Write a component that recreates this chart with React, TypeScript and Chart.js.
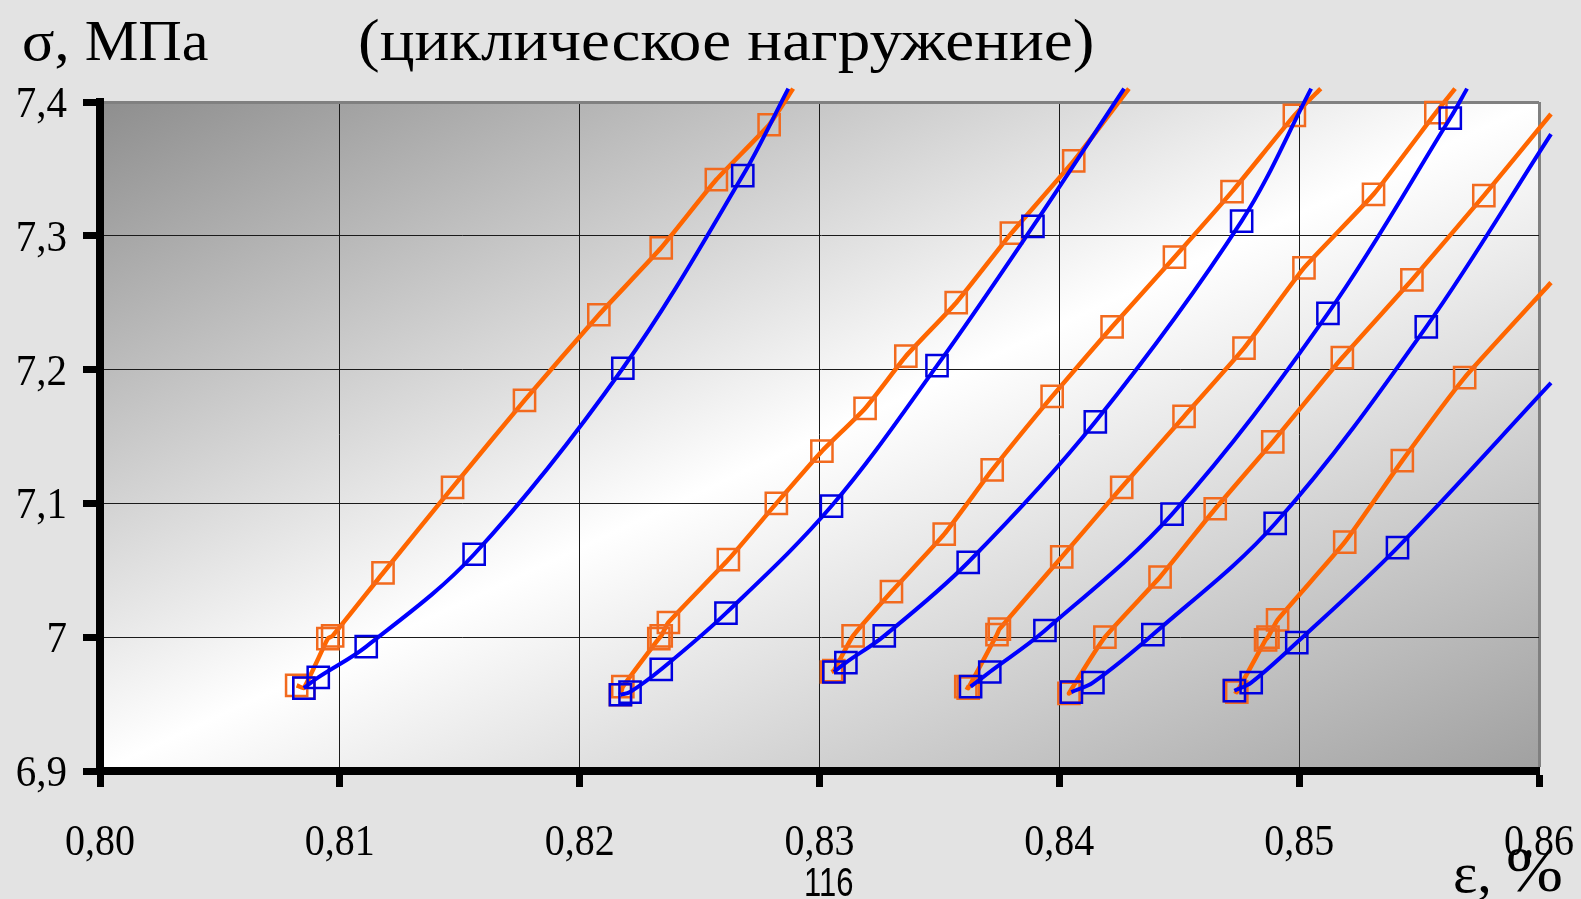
import { useEffect, useRef } from 'react';
import { Chart, registerables } from 'chart.js';
Chart.register(...registerables);

const X_TICKS = [0.8, 0.81, 0.82, 0.83, 0.84, 0.85, 0.86];
const X_TICK_LABELS = ['0,80', '0,81', '0,82', '0,83', '0,84', '0,85', '0,86'];
const Y_TICKS = [6.9, 7.0, 7.1, 7.2, 7.3, 7.4];
const Y_TICK_LABELS = ['6,9', '7', '7,1', '7,2', '7,3', '7,4'];

// [strain %, stress MPa]
const ORANGE_1 = [[0.8082, 6.964], [0.8085, 6.962], [0.8095, 6.999], [0.8097, 7.001], [0.8118, 7.048], [0.8147, 7.112], [0.8177, 7.177], [0.8208, 7.241], [0.8234, 7.291], [0.8257, 7.342], [0.8279, 7.383], [0.8289, 7.41]];
const BLUE_1 = [[0.8085, 6.962], [0.8091, 6.97], [0.8111, 6.993], [0.8156, 7.062], [0.8218, 7.201], [0.8268, 7.345], [0.8287, 7.41]];

const ORANGE_2 = [[0.8217, 6.957], [0.8218, 6.963], [0.8233, 6.999], [0.8234, 7.001], [0.8237, 7.011], [0.8262, 7.058], [0.8282, 7.1], [0.8301, 7.139], [0.8319, 7.171], [0.8336, 7.21], [0.8357, 7.25], [0.838, 7.302], [0.8406, 7.356], [0.8429, 7.41]];
const BLUE_2 = [[0.8217, 6.957], [0.8221, 6.959], [0.8234, 6.976], [0.8261, 7.018], [0.8305, 7.098], [0.8349, 7.203], [0.8389, 7.307], [0.8427, 7.41]];

const ORANGE_3 = [[0.8305, 6.974], [0.8306, 6.975], [0.8314, 7.001], [0.833, 7.034], [0.8352, 7.077], [0.8372, 7.125], [0.8397, 7.18], [0.8422, 7.232], [0.8448, 7.284], [0.8472, 7.333], [0.8498, 7.39], [0.8509, 7.41]];
const BLUE_3 = [[0.8306, 6.974], [0.8311, 6.981], [0.8327, 7.001], [0.8362, 7.056], [0.8415, 7.161], [0.8476, 7.311], [0.8505, 7.41]];

const ORANGE_4 = [[0.8361, 6.963], [0.8362, 6.962], [0.8374, 7.002], [0.8375, 7.006], [0.8401, 7.06], [0.8426, 7.112], [0.8452, 7.165], [0.8477, 7.216], [0.8502, 7.276], [0.8531, 7.331], [0.8557, 7.392], [0.8565, 7.41]];
const BLUE_4 = [[0.8363, 6.963], [0.8371, 6.974], [0.8394, 7.005], [0.8447, 7.092], [0.8512, 7.242], [0.8563, 7.388], [0.857, 7.41]];

const ORANGE_5 = [[0.8405, 6.959], [0.8404, 6.958], [0.8419, 7.0], [0.8442, 7.045], [0.8465, 7.096], [0.8489, 7.146], [0.8518, 7.209], [0.8547, 7.267], [0.8577, 7.33], [0.8605, 7.391]];
const BLUE_5 = [[0.8405, 6.959], [0.8414, 6.966], [0.8439, 7.002], [0.849, 7.085], [0.8553, 7.232], [0.8605, 7.376]];

const ORANGE_6 = [[0.8473, 6.96], [0.8474, 6.959], [0.8486, 6.998], [0.8487, 7.0], [0.8491, 7.013], [0.8519, 7.071], [0.8543, 7.132], [0.8569, 7.194], [0.8605, 7.265]];
const BLUE_6 = [[0.8473, 6.96], [0.848, 6.966], [0.8499, 6.996], [0.8541, 7.067], [0.8605, 7.19]];

const BLUE_SERIES = [BLUE_1, BLUE_2, BLUE_3, BLUE_4, BLUE_5, BLUE_6];
const ORANGE_SERIES = [ORANGE_1, ORANGE_2, ORANGE_3, ORANGE_4, ORANGE_5, ORANGE_6];

const X_MIN = 0.8, X_MAX = 0.86, Y_MIN = 6.9, Y_MAX = 7.4;

const SERIF = '"Liberation Serif", "Times New Roman", serif';
const SANS = '"Liberation Sans", Arial, sans-serif';

function makeDataset(pts: number[][], line: string, marker: string, width: number, tension: number) {
  return {
    data: pts.map(([x, y]) => ({ x, y })),
    borderColor: line,
    borderWidth: width,
    pointStyle: 'rect',
    pointRadius: (c: any) => {
      const p = c.raw;
      if (!p) return 0;
      return p.x > X_MAX || p.y > Y_MAX ? 0 : 15;
    },
    pointBorderColor: marker,
    pointBackgroundColor: 'rgba(0,0,0,0)',
    pointBorderWidth: 2.5,
    tension,
    fill: false,
    clip: { left: 0, top: 20, right: 20, bottom: 0 },
  };
}

const bgPlugin = {
  id: 'plotBg',
  beforeDraw(chart: any) {
    const { ctx, chartArea: a } = chart;
    ctx.save();
    ctx.translate(a.left, a.top);
    ctx.scale(a.right - a.left, a.bottom - a.top);
    const g = ctx.createLinearGradient(0, 0, 1, 1);
    g.addColorStop(0, '#8e8e8e');
    g.addColorStop(0.5, '#ffffff');
    g.addColorStop(1, '#a0a0a0');
    ctx.fillStyle = g;
    ctx.fillRect(0, 0, 1, 1);
    ctx.restore();
  },
};

const labelPlugin = {
  id: 'tickText',
  afterDraw(chart: any) {
    const { ctx } = chart;
    const xs = chart.scales.x;
    const ys = chart.scales.y;
    ctx.save();
    ctx.fillStyle = '#000';
    ctx.font = `40px ${SERIF}`;
    ctx.textBaseline = 'alphabetic';
    ctx.textAlign = 'center';
    X_TICKS.forEach((v, i) => {
      const px = xs.getPixelForValue(v);
      ctx.save();
      ctx.translate(px, 855);
      ctx.scale(1, 1.1);
      ctx.fillText(X_TICK_LABELS[i], 0, 0);
      ctx.restore();
    });
    ctx.font = `41px ${SERIF}`;
    ctx.textAlign = 'right';
    Y_TICKS.forEach((v, i) => {
      const py = ys.getPixelForValue(v);
      ctx.save();
      ctx.translate(67, py + 15);
      ctx.scale(1, 1.1);
      ctx.fillText(Y_TICK_LABELS[i], 0, 0);
      ctx.restore();
    });
    ctx.restore();
  },
};

function textStyle(left: number, baseline: number, size: number, family: string, sx = 1, sy = 1) {
  const asc = family.includes('Sans') ? 0.8465 : 0.8375;
  return {
    position: 'absolute' as const,
    left,
    top: baseline - asc * size,
    fontSize: size,
    lineHeight: 1,
    fontFamily: family,
    color: '#000',
    whiteSpace: 'nowrap' as const,
    transform: `scale(${sx}, ${sy})`,
    transformOrigin: `0px ${asc * size}px`,
  };
}

export default function App() {
  const ref = useRef<HTMLCanvasElement>(null);
  useEffect(() => {
    const canvas = ref.current;
    if (!canvas) return;
    const datasets: any[] = [];
    BLUE_SERIES.forEach((s) => datasets.push(makeDataset(s, '#0000ff', '#0000e0', 4, 0.35)));
    ORANGE_SERIES.forEach((s) => datasets.push(makeDataset(s, '#ff6600', '#f26a1e', 4.5, 0.15)));
    const chart = new Chart(canvas, {
      type: 'line',
      data: { datasets },
      options: {
        animation: false,
        responsive: false,
        devicePixelRatio: 1,
        layout: { padding: { top: 102, right: 42, left: 0, bottom: 0 } },
        plugins: { legend: { display: false }, tooltip: { enabled: false } },
        events: [],
        scales: {
          x: {
            type: 'linear',
            min: X_MIN,
            max: X_MAX,
            ticks: { stepSize: 0.01, display: false },
            grid: {
              color: (c: any) => (c.tick && c.tick.value > 0.8599 ? '#808080' : '#1a1a1a'),
              lineWidth: (c: any) => (c.tick && c.tick.value > 0.8599 ? 3 : 1),
              tickColor: '#000',
              tickWidth: 7,
              tickLength: 16,
              drawTicks: true,
            },
            border: { display: true, color: '#000', width: 8 },
            afterFit: (s: any) => { s.height = 128; },
          },
          y: {
            type: 'linear',
            min: Y_MIN,
            max: Y_MAX,
            ticks: { stepSize: 0.1, display: false },
            grid: {
              color: (c: any) => (c.tick && c.tick.value > 7.399 ? '#808080' : '#1a1a1a'),
              lineWidth: (c: any) => (c.tick && c.tick.value > 7.399 ? 3 : 1),
              tickColor: '#000',
              tickWidth: 7,
              tickLength: 17,
              drawTicks: true,
            },
            border: { display: true, color: '#000', width: 8 },
            afterFit: (s: any) => { s.width = 100; },
          },
        },
      } as any,
      plugins: [bgPlugin, labelPlugin],
    });
    return () => chart.destroy();
  }, []);

  return (
    <div style={{ position: 'fixed', left: 0, top: 0, width: 1581, height: 899, background: '#e3e3e3', overflow: 'hidden' }}>
      <canvas ref={ref} width={1581} height={899} style={{ position: 'absolute', left: 0, top: 0, width: 1581, height: 899 }} />
      <div style={textStyle(22, 61, 58, SERIF, 1.04, 1)}>σ, МПа</div>
      <div style={textStyle(358, 60, 60, SERIF, 1.085, 1)}>(циклическое нагружение)</div>
      <div style={textStyle(1453, 893, 58, SERIF)}>
        ε, <span style={{ display: 'inline-block', transform: 'scale(1.18, 1.1)', transformOrigin: '0 100%' }}>%</span>
      </div>
      <div style={textStyle(804, 896, 31, SANS, 1, 1.3)}>116</div>
    </div>
  );
}
